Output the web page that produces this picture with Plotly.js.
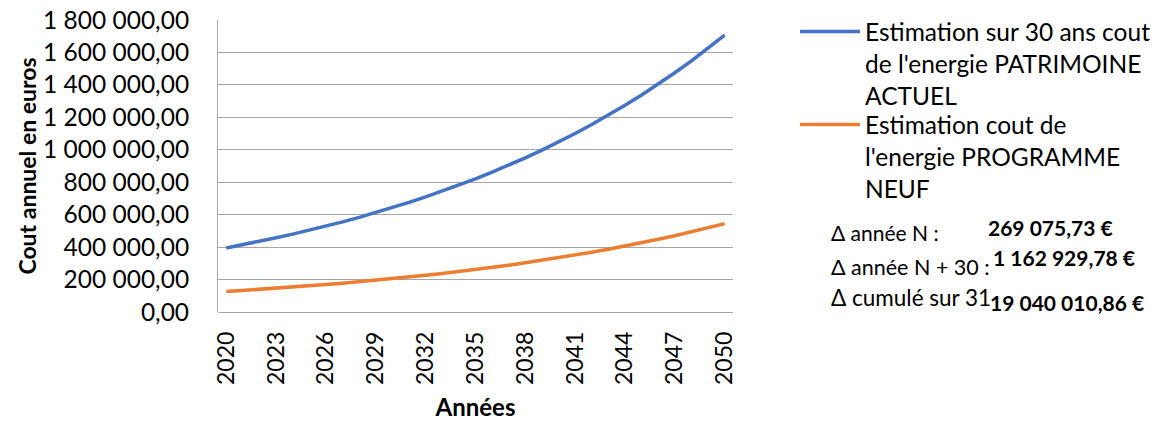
<!DOCTYPE html>
<html>
<head>
<meta charset="utf-8">
<script src="https://cdn.plot.ly/plotly-3.0.1.min.js"></script>
<style>html,body{margin:0;padding:0;background:#fff;}#chart{width:1176px;height:421px;}</style>
</head>
<body>
<div id="chart"></div>
<script>
const years = [2020,2021,2022,2023,2024,2025,2026,2027,2028,2029,2030,2031,2032,2033,2034,2035,2036,2037,2038,2039,2040,2041,2042,2043,2044,2045,2046,2047,2048,2049,2050];
const patrimoineActuel = [395000,414750,435488,457262,480125,504131,529338,555805,583595,612775,643413,675584,709363,744831,782073,821177,862235,905347,950615,998145,1048053,1100455,1155478,1213252,1273914,1337610,1404491,1474715,1548451,1625874,1707167];
const programmeNeuf = [126000,132300,138915,145861,153154,160811,168852,177295,186159,195467,205241,215503,226278,237592,249471,261945,275042,288794,303234,318396,334316,351031,368583,387012,406363,426681,448015,470415,493936,518633,544565];
const xTicks = [2020,2023,2026,2029,2032,2035,2038,2041,2044,2047,2050];
const seriesNames = ["Estimation sur 30 ans cout<br>de l'energie PATRIMOINE<br>ACTUEL", "Estimation cout de<br>l'energie PROGRAMME<br>NEUF"];
const deltaLabels = ["Δ année N :", "Δ année N + 30 :", "Δ cumulé sur 31"];
const deltaValues = ["269 075,73 €", "1 162 929,78 €", "19 040 010,86 €"];

const FONT = "Lato, 'Open Sans', sans-serif";
const W = 1176, H = 421, L = 218, R = 733, T = 20, B = 312;
const px = x => (x - L) / (R - L);
const py = y => (B - y) / (B - T);

const traces = [
  {x: years, y: patrimoineActuel, name: seriesNames[0], type: 'scatter', mode: 'lines', legend: 'legend',
   line: {color: '#4472C4', width: 3.5}},
  {x: years, y: programmeNeuf, name: seriesNames[1], type: 'scatter', mode: 'lines', legend: 'legend2',
   line: {color: '#ED7D31', width: 3.5}}
];

const annotations = [
  {text: deltaLabels[0], x: px(829), y: py(233), font: {size: 21}},
  {text: deltaLabels[1], x: px(829), y: py(267), font: {size: 21.5}},
  {text: deltaLabels[2], x: px(829), y: py(297), font: {size: 22.5}},
  {text: '<b>' + deltaValues[0] + '</b>', x: px(986), y: py(227), font: {size: 21}},
  {text: '<b>' + deltaValues[1] + '</b>', x: px(991), y: py(257), font: {size: 21}},
  {text: '<b>' + deltaValues[2] + '</b>', x: px(988), y: py(302), font: {size: 21}}
].map(a => Object.assign({xref: 'paper', yref: 'paper', xanchor: 'left', yanchor: 'middle', showarrow: false}, a,
  {font: Object.assign({family: FONT, color: '#000'}, a.font)}));

const legendBase = {xref: 'container', yref: 'container', x: 795 / W, xanchor: 'left', yanchor: 'top',
  valign: 'top', font: {family: FONT, size: 24.5, color: '#000'}, itemwidth: 60, bgcolor: 'rgba(0,0,0,0)'};

const layout = {
  width: W, height: H,
  margin: {l: L, r: W - R, t: T, b: H - B, pad: 0},
  paper_bgcolor: '#fff', plot_bgcolor: '#fff',
  separators: ', ',
  font: {family: FONT, color: '#000', size: 22},
  showlegend: true,
  legend: Object.assign({}, legendBase, {y: 1 - 9 / H}),
  legend2: Object.assign({}, legendBase, {y: 1 - 102 / H}),
  xaxis: {
    range: [2019.5, 2050.5], tickvals: xTicks, ticktext: xTicks.map(String), tickangle: -90,
    showgrid: false, zeroline: false, showline: false, ticks: '', ticklabelstandoff: 14,
    tickfont: {family: FONT, size: 23, color: '#000'},
    title: {text: '<b>Années</b>', font: {family: FONT, size: 24, color: '#000'}, standoff: 18}
  },
  yaxis: {
    range: [0, 1800000], dtick: 200000, tickformat: ',.2f',
    showgrid: true, gridcolor: '#a6a6a6', gridwidth: 1,
    zeroline: true, zerolinecolor: '#a6a6a6', zerolinewidth: 1,
    showline: true, linecolor: '#a6a6a6', linewidth: 1, ticks: '', ticklabelstandoff: 23,
    tickfont: {family: FONT, size: 24.5, color: '#000'},
    title: {text: '<b>Cout annuel en euros</b>', font: {family: FONT, size: 23, color: '#000'}, standoff: 0}
  },
  annotations: annotations
};

Plotly.newPlot('chart', traces, layout, {staticPlot: true, displayModeBar: false});
</script>
</body>
</html>
